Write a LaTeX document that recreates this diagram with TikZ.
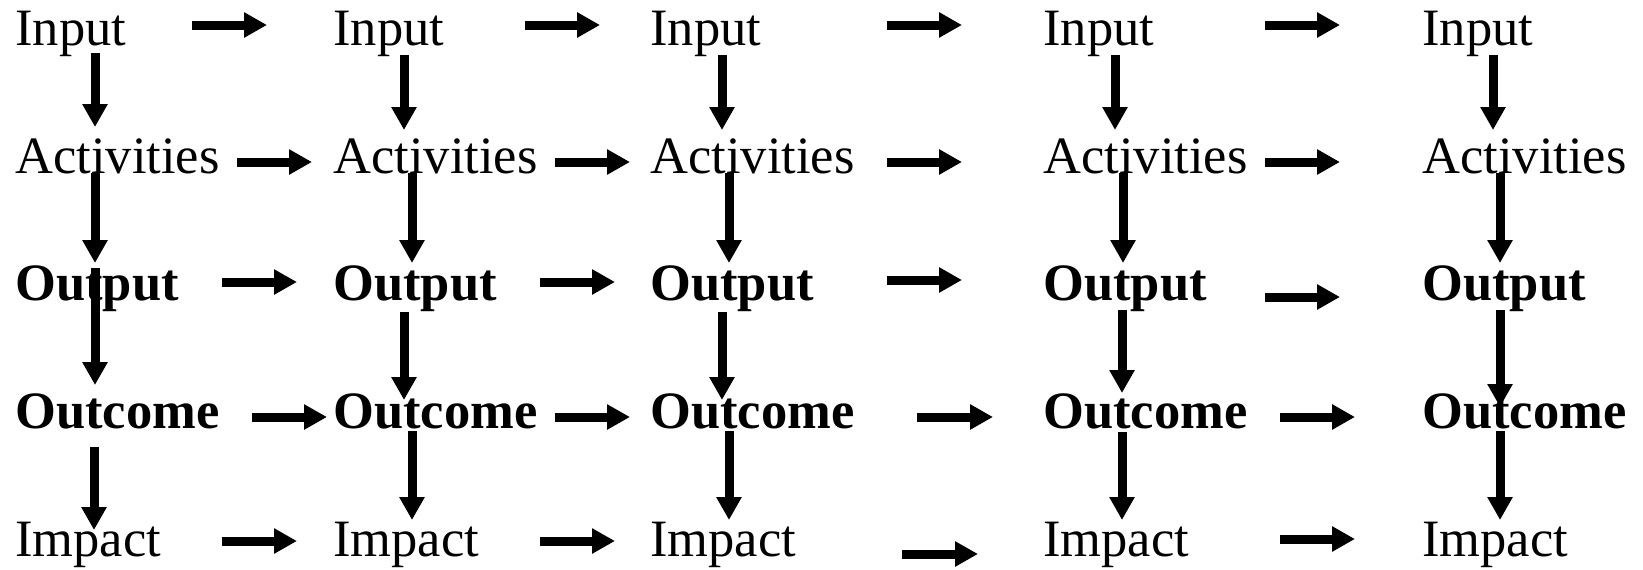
\documentclass[tikz,border=0pt]{standalone}
\usepackage{fontspec}
\setmainfont{Liberation Serif}
\usetikzlibrary{arrows.meta}
\begin{document}
\begin{tikzpicture}[x=0.5pt,y=-0.5pt,
  lbl/.style={anchor=base west,inner sep=0pt,font=\fontsize{26.25pt}{30pt}\selectfont},
  blbl/.style={anchor=base west,inner sep=0pt,font=\fontsize{26.25pt}{30pt}\selectfont\bfseries},
  arr/.style={line width=4.5pt,-{Triangle[length=11.5pt,width=12pt]}}]
\useasboundingbox (0,0) rectangle (1643,569);
% labels
\foreach \c/\x in {1/15,2/333,3/650,4/1043,5/1422}{
  \node[lbl]  (in\c)  at (\x,45)  {Input};
  \node[lbl]  (act\c) at (\x,173) {Activities};
  \node[blbl] (out\c) at (\x,300) {Output};
  \node[blbl] (oc\c)  at (\x,428) {Outcome};
  \node[lbl]  (im\c)  at (\x,556) {Impact};
}
% horizontal arrows
\foreach \n/\xa/\xb/\y in {
  ha1/192/267/25, hb1/525/600/25, hc1/887/962/25, hd1/1265/1340/25,
  ha2/237/312/162, hb2/555/630/162, hc2/887/962/162, hd2/1265/1340/162,
  ha3/222/297/282, hb3/540/615/282, hc3/887/962/280, hd3/1265/1340/297,
  ha4/252/327/417, hb4/555/630/417, hc4/917/993/417, hd4/1280/1355/417,
  ha5/222/297/541, hb5/540/615/541, hc5/902/978/554, hd5/1280/1355/539}{
  \coordinate (\n-s) at (\xa,\y);
  \coordinate (\n-e) at (\xb,\y);
  \draw[arr] (\n-s) -- (\n-e);
}
% vertical arrows
\foreach \n/\x/\ya/\yb in {
  va1/95/53/127, va2/95/173/263, va3/95/268/385, va4/94/447/530,
  vb1/404/55/130, vb2/412/173/263, vb3/404/312/400, vb4/412/431/520,
  vc1/722/55/130, vc2/729/173/263, vc3/722/312/400, vc4/729/431/520,
  vd1/1115/55/130, vd2/1123/173/263, vd3/1122/310/393, vd4/1122/432/520,
  ve1/1493/55/130, ve2/1500/173/263, ve3/1500/310/407, ve4/1500/431/520}{
  \coordinate (\n-s) at (\x,\ya);
  \coordinate (\n-e) at (\x,\yb);
  \draw[arr] (\n-s) -- (\n-e);
}
\end{tikzpicture}
\end{document}
